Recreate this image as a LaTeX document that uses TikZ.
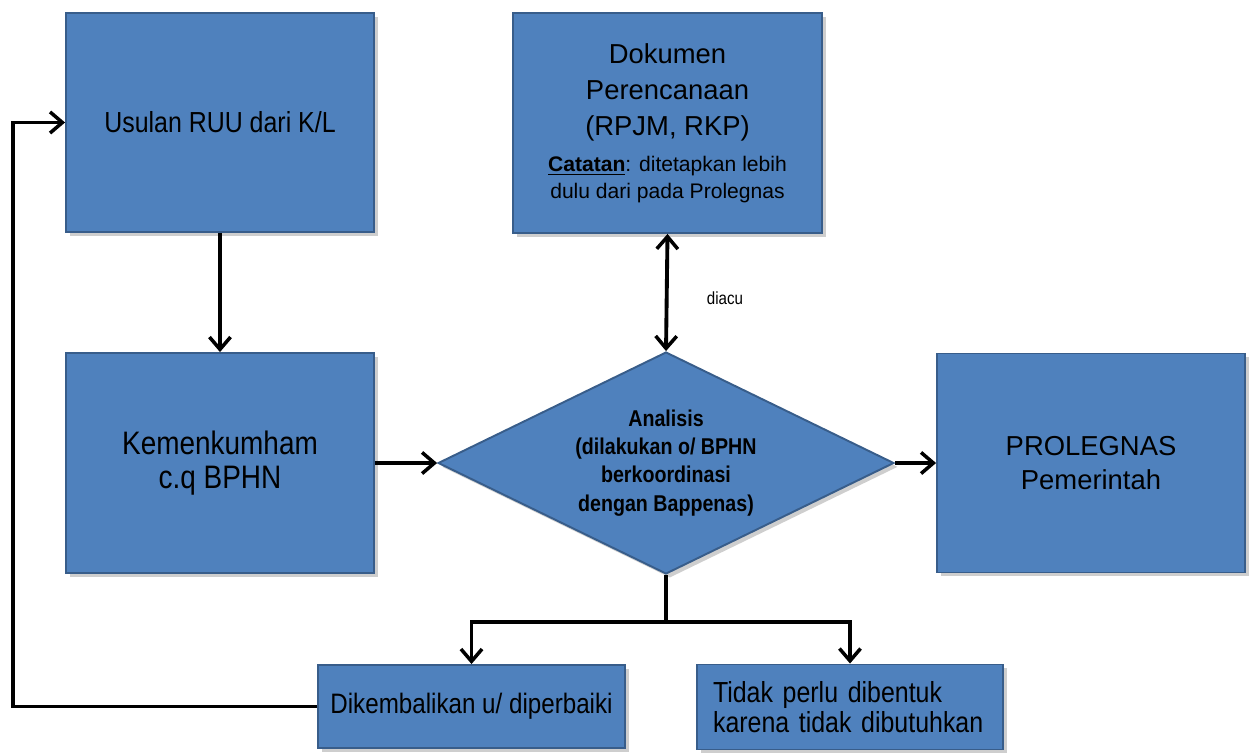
\documentclass[tikz,border=0pt]{standalone}
\usepackage{fontspec}
\setmainfont{Liberation Sans}
\newfontfamily\narrowfont[FakeStretch=0.86]{Liberation Sans}
\usepackage{tikz}
\usetikzlibrary{arrows.meta, positioning, shapes.geometric, shadows}

\begin{document}
\begin{tikzpicture}[x=0.02cm, y=-0.02cm,
  blok/.style={rectangle, draw=boxborder, line width=1.1pt, fill=boxfill, align=center, inner sep=0pt,
    drop shadow={shadow xshift=2.2pt, shadow yshift=-2.2pt, fill=black!38}},
  panah/.style={-{Straight Barb[length=7pt, width=12pt, line width=2pt]}, line width=2.2pt},
  panahdua/.style={{Straight Barb[length=7pt, width=12pt, line width=2pt]}-{Straight Barb[length=7pt, width=12pt, line width=2pt]}, line width=2.2pt},
  ]
  % Colours of the boxes
  \definecolor{boxfill}{RGB}{79,129,189}     % Blue
  \definecolor{boxborder}{RGB}{56,93,138}    % Dark blue

  \useasboundingbox (0,0) rectangle (1256,753);

  % Boxes of the flow
  \node[blok, minimum width=6.16cm, minimum height=4.38cm, font=\narrowfont\fontsize{16.5}{19}\selectfont] (usulan) at (220,122.5) {Usulan RUU dari K/L};
  \node[blok, minimum width=6.18cm, minimum height=4.4cm, font=\fontsize{15.6}{20.5}\selectfont] (dokumen) at (667.5,123)
    {Dokumen\\ Perencanaan\\ (RPJM, RKP)\\[0pt]
     {\fontsize{12}{13}\selectfont \underline{\textbf{Catatan}}: ditetapkan lebih}\\[-5.2pt]
     {\fontsize{12}{13}\selectfont dulu dari pada Prolegnas}};
  \node[blok, minimum width=6.16cm, minimum height=4.4cm, font=\narrowfont\fontsize{18.5}{19}\selectfont] (kemen) at (220,463) {Kemenkumham\\ c.q BPHN};
  \node[blok, diamond, shape aspect=2.05, minimum width=9.12cm, minimum height=4.44cm, font=\narrowfont\bfseries\fontsize{13}{16}\selectfont] (analisis) at (666,463)
    {Analisis\\ (dilakukan o/ BPHN\\ berkoordinasi\\ dengan Bappenas)};
  \node[blok, minimum width=6.16cm, minimum height=4.38cm, font=\fontsize{15.6}{19.8}\selectfont] (prolegnas) at (1091,463) {PROLEGNAS\\ Pemerintah};
  \node[blok, minimum width=6.14cm, minimum height=1.66cm, font=\narrowfont\fontsize{16}{19}\selectfont] (kembali) at (471.5,706.5) {Dikembalikan u/ diperbaiki};
  \node[blok, minimum width=6.12cm, minimum height=1.7cm, inner xsep=0.32cm, text width=5.48cm, align=left, font=\narrowfont\fontsize{16.5}{17}\selectfont] (tidak) at (850,707)
    {Tidak perlu dibentuk\\ karena tidak dibutuhkan};

  % Label of the double arrow
  \node[font=\narrowfont\fontsize{10}{12}\selectfont] (diacu) at (725,298) {diacu};

  % Points where the lines turn
  \coordinate (cabang) at (666,622);
  \coordinate (balik) at (13,0);

  % Arrows between boxes
  \draw[panah] (usulan) -- (kemen);
  \draw[panahdua] (dokumen.south) -- (analisis.north);
  \draw[panah] (kemen) -- (analisis);
  \draw[panah] (analisis) -- (prolegnas);
  \draw[line width=2.2pt] (analisis.south) -- (cabang);
  \draw[panah] (cabang) -| (kembali.north);
  \draw[panah] (cabang) -| (tidak.north);
  \draw[panah] (kembali.west) -- (kembali.west -| balik) |- (usulan.west);
\end{tikzpicture}
\end{document}
